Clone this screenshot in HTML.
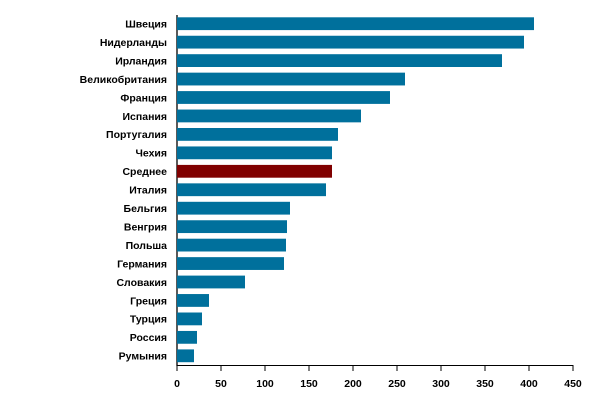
<!DOCTYPE html>
<html><head><meta charset="utf-8"><style>
body{margin:0;background:#fff;}
svg{display:block;}
text{font-family:"Liberation Sans",Arial,sans-serif;font-weight:bold;font-size:10.5px;fill:#000;}
</style></head><body>
<svg width="600" height="411" xmlns="http://www.w3.org/2000/svg">
<g id="bars"></g>
<line x1="177" y1="15" x2="177" y2="366" stroke="#000" stroke-width="1.3"/>
<line x1="177" y1="365.5" x2="573" y2="365.5" stroke="#000" stroke-width="1"/>
<g stroke="#000" stroke-width="1">
<line x1="177" y1="365" x2="177" y2="371"/><line x1="221" y1="365" x2="221" y2="371"/><line x1="265" y1="365" x2="265" y2="371"/><line x1="309" y1="365" x2="309" y2="371"/><line x1="353" y1="365" x2="353" y2="371"/><line x1="397" y1="365" x2="397" y2="371"/><line x1="441" y1="365" x2="441" y2="371"/><line x1="485" y1="365" x2="485" y2="371"/><line x1="529" y1="365" x2="529" y2="371"/><line x1="573" y1="365" x2="573" y2="371"/>
</g>
<g text-anchor="middle">
<text x="177" y="387">0</text><text x="221" y="387">50</text><text x="265" y="387">100</text><text x="309" y="387">150</text><text x="353" y="387">200</text><text x="397" y="387">250</text><text x="441" y="387">300</text><text x="485" y="387">350</text><text x="529" y="387">400</text><text x="573" y="387">450</text>
</g>
<g text-anchor="end">
<rect x="177" y="17.3" width="357" height="12.8" fill="#00709c"/><text x="167" y="27.5">Швеция</text>
<rect x="177" y="35.75" width="347" height="12.8" fill="#00709c"/><text x="167" y="45.95">Нидерланды</text>
<rect x="177" y="54.2" width="325" height="12.8" fill="#00709c"/><text x="167" y="64.4">Ирландия</text>
<rect x="177" y="72.65" width="228" height="12.8" fill="#00709c"/><text x="167" y="82.85">Великобритания</text>
<rect x="177" y="91.1" width="213" height="12.8" fill="#00709c"/><text x="167" y="101.3">Франция</text>
<rect x="177" y="109.55" width="184" height="12.8" fill="#00709c"/><text x="167" y="119.75">Испания</text>
<rect x="177" y="128" width="161" height="12.8" fill="#00709c"/><text x="167" y="138.2">Португалия</text>
<rect x="177" y="146.45" width="155" height="12.8" fill="#00709c"/><text x="167" y="156.65">Чехия</text>
<rect x="177" y="164.9" width="155" height="12.8" fill="#800000"/><text x="167" y="175.1">Среднее</text>
<rect x="177" y="183.35" width="149" height="12.8" fill="#00709c"/><text x="167" y="193.55">Италия</text>
<rect x="177" y="201.8" width="113" height="12.8" fill="#00709c"/><text x="167" y="212">Бельгия</text>
<rect x="177" y="220.25" width="110" height="12.8" fill="#00709c"/><text x="167" y="230.45">Венгрия</text>
<rect x="177" y="238.7" width="109" height="12.8" fill="#00709c"/><text x="167" y="248.9">Польша</text>
<rect x="177" y="257.15" width="107" height="12.8" fill="#00709c"/><text x="167" y="267.35">Германия</text>
<rect x="177" y="275.6" width="68" height="12.8" fill="#00709c"/><text x="167" y="285.8">Словакия</text>
<rect x="177" y="294.05" width="32" height="12.8" fill="#00709c"/><text x="167" y="304.25">Греция</text>
<rect x="177" y="312.5" width="25" height="12.8" fill="#00709c"/><text x="167" y="322.7">Турция</text>
<rect x="177" y="330.95" width="20" height="12.8" fill="#00709c"/><text x="167" y="341.15">Россия</text>
<rect x="177" y="349.4" width="17" height="12.8" fill="#00709c"/><text x="167" y="359.6">Румыния</text>
</g>
</svg>
</body></html>
